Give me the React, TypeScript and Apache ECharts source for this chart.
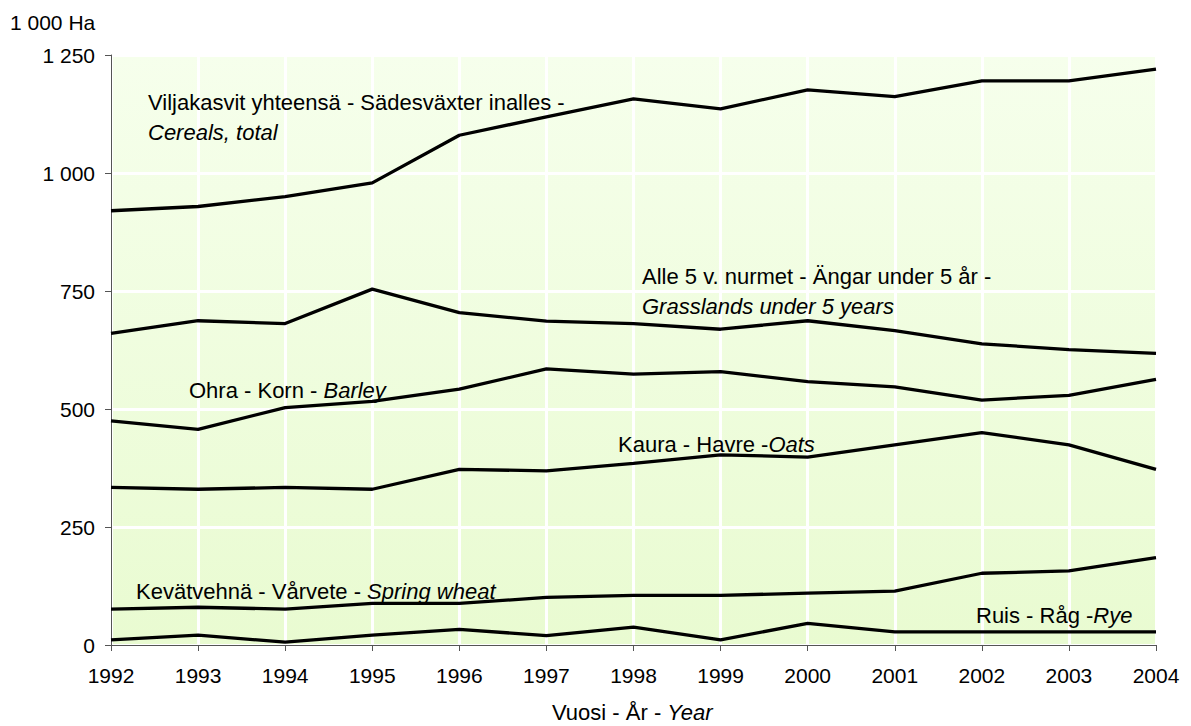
import React, { useEffect, useRef } from "react";
import * as echarts from "echarts";

const years = ["1992","1993","1994","1995","1996","1997","1998","1999","2000","2001","2002","2003","2004"];
const cereals = [920, 929, 950, 979, 1080, 1119, 1157, 1136, 1176, 1162, 1195, 1195, 1220];
const grasslands = [660, 687, 681, 754, 704, 686, 681, 669, 687, 666, 638, 626, 618];
const barley = [475, 457, 503, 516, 542, 585, 574, 579, 558, 547, 519, 529, 563];
const oats = [334, 330, 334, 330, 372, 369, 385, 403, 398, 424, 450, 424, 372];
const springWheat = [76, 80, 76, 88, 88, 101, 105, 105, 110, 114, 152, 157, 185];
const rye = [11, 21, 6, 21, 33, 20, 38, 11, 46, 28, 28, 28, 28];
const yTicks = [0, 250, 500, 750, 1000, 1250];

const FONT = "'Liberation Sans', Arial, sans-serif";
const FS = 21;
const LFS = 22;

export default function App() {
  const ref = useRef<HTMLDivElement>(null);
  useEffect(() => {
    if (!ref.current) return;
    const chart = echarts.init(ref.current, null, { renderer: "svg" });
    const mk = (name: string, data: number[]) => ({
      name,
      type: "line",
      data,
      symbol: "none",
      lineStyle: { color: "#000", width: 3.3 },
      itemStyle: { color: "#000" },
    });
    const rich = {
      n: { fontFamily: FONT, fontSize: LFS, fill: "#000", fontStyle: "normal" },
      i: { fontFamily: FONT, fontSize: LFS, fill: "#000", fontStyle: "italic" },
    };
    const label = (x: number, y: number, a: string, b: string) => ({
      type: "text",
      x,
      y,
      style: {
        text: (a ? `{n|${a}}` : "") + (b ? `{i|${b}}` : ""),
        rich,
        font: `${LFS}px ${FONT}`,
        fill: "#000",
        verticalAlign: "middle",
        align: "left",
      },
      z: 100,
    });
    chart.setOption({
      animation: false,
      textStyle: { fontFamily: FONT },
      grid: {
        left: 111,
        right: 35,
        top: 55,
        bottom: 81,
        show: true,
        borderWidth: 0,
        backgroundColor: {
          type: "linear",
          x: 0, y: 0, x2: 0, y2: 1,
          colorStops: [
            { offset: 0, color: "#F6FFEC" },
            { offset: 1, color: "#E9FBD1" },
          ],
        },
      },
      xAxis: {
        type: "category",
        data: years,
        boundaryGap: false,
        axisLine: { lineStyle: { color: "#555", width: 1 } },
        axisTick: { show: true, length: 6, lineStyle: { color: "#555" } },
        axisLabel: { color: "#000", fontSize: FS, fontFamily: FONT, margin: 20 },
        splitLine: { show: true, lineStyle: { color: "#fff", width: 3 } },
      },
      yAxis: {
        type: "value",
        min: yTicks[0],
        max: yTicks[yTicks.length - 1],
        interval: 250,
        axisLine: { show: true, lineStyle: { color: "#555", width: 1 } },
        axisTick: { show: true, length: 6, lineStyle: { color: "#555" } },
        axisLabel: {
          color: "#000",
          fontSize: FS,
          fontFamily: FONT,
          margin: 16,
          formatter: (v: number) => String(v).replace(/\B(?=(\d{3})+(?!\d))/g, " "),
        },
        splitLine: { show: true, lineStyle: { color: "#fff", width: 3 } },
      },
      series: [
        mk("Cereals, total", cereals),
        mk("Grasslands under 5 years", grasslands),
        mk("Barley", barley),
        mk("Oats", oats),
        mk("Spring wheat", springWheat),
        mk("Rye", rye),
      ],
      graphic: [
        { type: "text", x: 10, y: 22, style: { text: "1 000 Ha", font: `${FS}px ${FONT}`, fill: "#000", verticalAlign: "middle" } },
        label(148, 102, "Viljakasvit yhteensä - Sädesväxter inalles -", ""),
        label(148, 132, "", "Cereals, total"),
        label(642, 276, "Alle 5 v. nurmet - Ängar under 5 år -", ""),
        label(642, 306, "", "Grasslands under 5 years"),
        label(189, 390, "Ohra - Korn - ", "Barley"),
        label(618, 444, "Kaura - Havre -", "Oats"),
        label(136, 591, "Kevätvehnä - Vårvete - ", "Spring wheat"),
        label(976, 615, "Ruis - Råg -", "Rye"),
        label(552, 712, "Vuosi - År - ", "Year"),
      ],
    });
    return () => chart.dispose();
  }, []);
  return (
    <div
      ref={ref}
      style={{ position: "fixed", left: 0, top: 0, width: 1191, height: 726, background: "#fff" }}
    />
  );
}
